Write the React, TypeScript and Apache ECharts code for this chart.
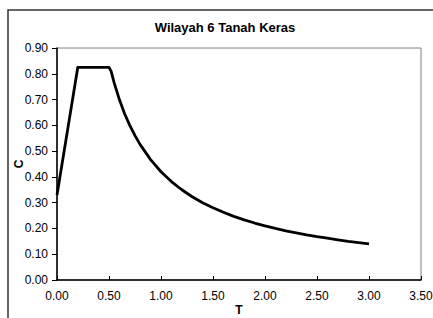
import React, { useEffect, useRef } from "react";
import * as echarts from "echarts";

const titleText = "Wilayah 6 Tanah Keras";
const xName = "T";
const yName = "C";
const periodT = [0, 0.2, 0.5, 0.52, 0.55, 0.6, 0.65, 0.7, 0.75, 0.8, 0.9, 1.0, 1.1, 1.2, 1.3, 1.4, 1.5, 1.6, 1.7, 1.8, 1.9, 2.0, 2.1, 2.2, 2.3, 2.4, 2.5, 2.6, 2.7, 2.8, 2.9, 3.0];
const coefC = [0.33, 0.825, 0.825, 0.81, 0.765, 0.70, 0.645, 0.60, 0.56, 0.525, 0.467, 0.42, 0.382, 0.35, 0.323, 0.30, 0.28, 0.263, 0.247, 0.233, 0.221, 0.21, 0.20, 0.191, 0.183, 0.175, 0.168, 0.162, 0.156, 0.15, 0.145, 0.14];

export default function App() {
  const ref = useRef<HTMLDivElement>(null);
  useEffect(() => {
    if (!ref.current) return;
    const chart = echarts.init(ref.current, null, { renderer: "svg" });
    const font = "'Liberation Sans', Arial, sans-serif";
    chart.setOption({
      animation: false,
      backgroundColor: "#ffffff",
      textStyle: { fontFamily: font },
      graphic: [
        {
          type: "rect",
          shape: { x: 8, y: 10, width: 600, height: 500 },
          style: { fill: "none", stroke: "#333333", lineWidth: 1.5 },
          z: 10,
        },
        {
          type: "text",
          x: 225,
          y: 27,
          style: {
            text: titleText,
            fontFamily: font,
            fontSize: 13,
            fontWeight: "bold",
            fill: "#000",
            textAlign: "center",
            textVerticalAlign: "middle",
          },
        },
      ],
      grid: {
        left: 57,
        right: 12,
        top: 48,
        bottom: 38,
        containLabel: false,
        outerBoundsMode: "none",
        show: true,
        borderColor: "#808080",
        borderWidth: 1,
      },
      xAxis: {
        type: "value",
        min: 0,
        max: 3.5,
        interval: 0.5,
        name: xName,
        nameLocation: "middle",
        nameGap: 24,
        nameMoveOverlap: false,
        nameTextStyle: { fontFamily: font, fontSize: 12, fontWeight: "bold", color: "#000" },
        axisLine: { show: true, lineStyle: { color: "#000", width: 1.5 } },
        axisTick: { show: true, inside: true, length: 4, lineStyle: { color: "#000" } },
        axisLabel: {
          color: "#000",
          fontFamily: font,
          fontSize: 12,
          margin: 10,
          formatter: (v: number) => v.toFixed(2),
        },
        splitLine: { show: false },
      },
      yAxis: {
        type: "value",
        min: 0,
        max: 0.9,
        interval: 0.1,
        name: yName,
        nameLocation: "middle",
        nameGap: 32,
        nameRotate: 90,
        nameMoveOverlap: false,
        nameTextStyle: { fontFamily: font, fontSize: 12, fontWeight: "bold", color: "#000" },
        axisLine: { show: true, lineStyle: { color: "#000", width: 1.5 } },
        axisTick: { show: true, inside: false, length: 5, lineStyle: { color: "#000" } },
        axisLabel: {
          color: "#000",
          fontFamily: font,
          fontSize: 12,
          margin: 9,
          formatter: (v: number) => v.toFixed(2),
        },
        splitLine: { show: false },
      },
      series: [
        {
          type: "line",
          data: periodT.map((t, i) => [t, coefC[i]]),
          showSymbol: false,
          lineStyle: { color: "#000", width: 2.8, join: "round" },
        },
      ],
    });
    return () => chart.dispose();
  }, []);
  return (
    <div
      ref={ref}
      style={{ position: "fixed", left: 0, top: 0, width: 433, height: 318 }}
    />
  );
}
